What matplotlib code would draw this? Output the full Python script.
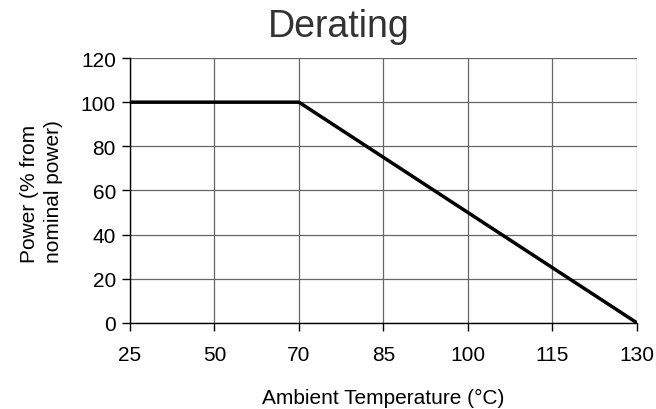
import matplotlib
matplotlib.use("Agg")
import matplotlib.pyplot as plt
import numpy as np

plt.rcParams['font.family'] = ['Liberation Sans', 'DejaVu Sans']

# Derating curve (evenly spaced temperature categories)
temps = ['25', '50', '70', '85', '100', '115', '130']
power = [100, 100, 100, 75, 50, 25, 0]
y_ticks = [0, 20, 40, 60, 80, 100, 120]

fig = plt.figure(figsize=(6.56, 4.10), dpi=100)
ax = fig.add_axes([0.198, 0.21, 0.773, 0.646])

x = np.arange(len(temps))
ax.plot(x, power, color='black', linewidth=2.5, solid_capstyle='butt', zorder=3)

ax.set_xlim(0, len(temps) - 1)
ax.set_ylim(0, 120)
ax.set_xticks(x)
ax.set_xticklabels(temps)
ax.set_yticks(y_ticks)

ax.grid(True, color='#666666', linewidth=0.9)
ax.set_axisbelow(True)
for s in ['top', 'right']:
    ax.spines[s].set_visible(False)
for s in ['left', 'bottom']:
    ax.spines[s].set_color('black')
    ax.spines[s].set_linewidth(1.0)

ax.tick_params(axis='both', direction='out', length=6, width=1, labelsize=15, pad=4)
ax.tick_params(axis='x', pad=10)

fig.text(339 / 656, 1 - 27 / 410, 'Derating', fontsize=27, color='#333333',
         ha='center', va='center')
ax.set_xlabel('Ambient Temperature (°C)', fontsize=15, labelpad=17)
ax.set_ylabel('Power (% from\nnominal power)', fontsize=15, multialignment='left',
              linespacing=1.35, labelpad=13)

fig.savefig('out.png', dpi=100)
